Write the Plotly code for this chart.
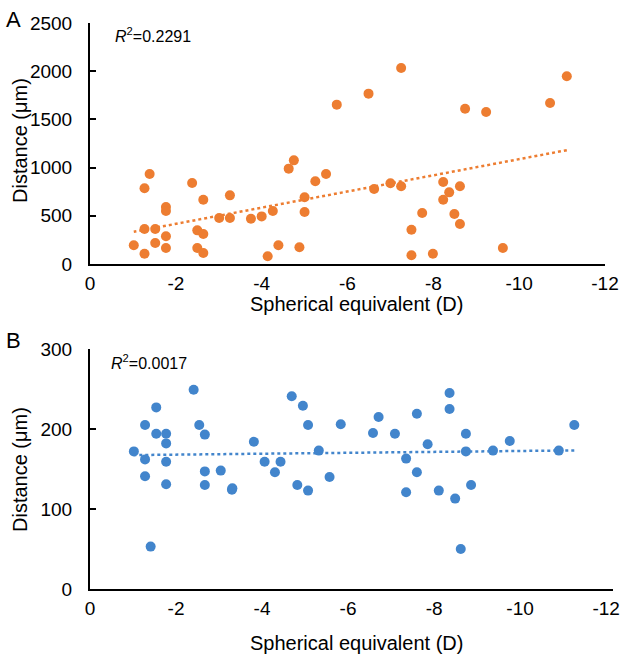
import numpy as np
import plotly.graph_objects as go

# Panel A: spherical equivalent (D) vs distance (um)
se_a = [-1.02, -1.27, -1.27, -1.27, -1.39, -1.52, -1.52, -1.77, -1.77, -1.77, -1.77,
        -2.38, -2.50, -2.50, -2.64, -2.64, -2.64, -3.01, -3.26, -3.26, -3.75, -4.00,
        -4.14, -4.26, -4.39, -4.63, -4.75, -4.88, -5.00, -5.00, -5.25, -5.50, -5.75,
        -6.49, -6.62, -7.00, -7.25, -7.25, -7.49, -7.49, -7.74, -7.99, -8.23, -8.23,
        -8.37, -8.49, -8.62, -8.62, -8.74, -9.23, -9.62, -10.72, -11.11]
dist_a = [194, 107, 363, 785, 934, 363, 218, 287, 166, 591, 550,
          840, 349, 166, 311, 114, 667, 477, 477, 712, 470, 494,
          80, 550, 194, 989, 1075, 173, 539, 692, 858, 934, 1653,
          1767, 778, 837, 806, 2033, 356, 90, 529, 107, 851, 667,
          743, 519, 415, 806, 1611, 1577, 166, 1670, 1947]

# Panel B
se_b = [-1.02, -1.28, -1.28, -1.28, -1.41, -1.54, -1.54, -1.77, -1.77, -1.77, -1.77,
        -2.41, -2.54, -2.67, -2.67, -2.67, -3.04, -3.30, -3.31, -3.81, -4.06, -4.30,
        -4.43, -4.69, -4.82, -4.95, -5.07, -5.07, -5.32, -5.57, -5.83, -6.58, -6.71,
        -7.09, -7.35, -7.35, -7.60, -7.60, -7.85, -8.11, -8.36, -8.36, -8.49, -8.62,
        -8.74, -8.74, -8.86, -9.37, -9.76, -10.90, -11.26]
dist_b = [172, 205, 162, 141, 53, 227, 194, 194, 182, 159, 131,
          249, 205, 193, 147, 130, 148, 124, 126, 184, 159, 146,
          159, 241, 130, 229, 205, 123, 173, 140, 206, 195, 215,
          194, 163, 121, 219, 146, 181, 123, 245, 225, 113, 50,
          194, 172, 130, 173, 185, 173, 205]

x_ticks = [0, -2, -4, -6, -8, -10, -12]
x_ticktext = ["0", "-2", "-4", "-6", "-8", "-10", "-12"]
r2_labels = ["0.2291", "0.0017"]

ORANGE = "#ED7D31"
BLUE = "#4285CC"
FONT = "Liberation Sans, Arial, sans-serif"

W, H = 621, 659
ML, MR, MT, MB = 90, 8, 23, 70


def px(x):
    return (x - ML) / (W - ML - MR)


def py(y):
    return (H - MB - y) / (H - MT - MB)


def trend(x, y):
    k, b = np.polyfit(x, y, 1)
    xs = np.array([min(x), max(x)])
    return xs, k * xs + b


fig = go.Figure()

fig.add_trace(go.Scatter(x=se_a, y=dist_a, mode="markers",
                         marker=dict(color=ORANGE, size=10), xaxis="x", yaxis="y"))
tx, ty = trend(se_a, dist_a)
fig.add_trace(go.Scatter(x=tx, y=ty, mode="lines",
                         line=dict(color=ORANGE, width=2.5, dash="dot"), xaxis="x", yaxis="y"))

fig.add_trace(go.Scatter(x=se_b, y=dist_b, mode="markers",
                         marker=dict(color=BLUE, size=10), xaxis="x2", yaxis="y2"))
tx, ty = trend(se_b, dist_b)
fig.add_trace(go.Scatter(x=tx, y=ty, mode="lines",
                         line=dict(color=BLUE, width=2.5, dash="dot"), xaxis="x2", yaxis="y2"))

axis_common = dict(showgrid=False, zeroline=False, showline=True, linecolor="black",
                   linewidth=2, automargin=False,
                   tickfont=dict(size=19, color="black", family=FONT))
xcommon = dict(axis_common, tickvals=x_ticks, ticktext=x_ticktext, ticks="",
               ticklabelstandoff=1)
ycommon = dict(axis_common, ticks="inside", ticklen=6, tickwidth=2, tickcolor="black",
               ticklabelstandoff=12)

fig.update_layout(
    width=W, height=H,
    margin=dict(l=ML, r=MR, t=MT, b=MB),
    plot_bgcolor="white", paper_bgcolor="white",
    showlegend=False,
    font=dict(family=FONT, color="black"),
    xaxis=dict(xcommon, domain=[0, px(605)], range=[0, -12], anchor="y"),
    yaxis=dict(ycommon, domain=[py(264), 1], range=[0, 2500], dtick=500, anchor="x"),
    xaxis2=dict(xcommon, domain=[0, 1], range=[0, -12.16], anchor="y2"),
    yaxis2=dict(ycommon, domain=[0, py(349)], range=[0, 300], dtick=100, anchor="x2"),
)

# axis titles
for cy in (304, 643):
    fig.add_annotation(text="Spherical equivalent (D)", xref="paper", yref="paper",
                       x=px(356), y=py(cy), xanchor="center", yanchor="middle",
                       showarrow=False, font=dict(size=20))
for cy in (141, 470):
    fig.add_annotation(text="Distance (μm)", xref="paper", yref="paper", textangle=-90,
                       x=px(20), y=py(cy), xanchor="center", yanchor="middle",
                       showarrow=False, font=dict(size=20))

# R² labels
for cx, cy, label in [(113, 35, r2_labels[0]), (109, 362, r2_labels[1])]:
    fig.add_annotation(text="<i>R</i><sup>2</sup>=" + label, xref="paper", yref="paper",
                       x=px(cx), y=py(cy), xanchor="left", yanchor="middle",
                       showarrow=False, font=dict(size=16))

# panel letters
for cx, cy, letter in [(13, 20, "A"), (14, 340, "B")]:
    fig.add_annotation(text=letter, xref="paper", yref="paper", x=px(cx), y=py(cy),
                       xanchor="center", yanchor="middle", showarrow=False,
                       font=dict(size=22))

fig.write_html("out.html", config={"displayModeBar": False},
               post_script="document.body.style.margin='0';")
